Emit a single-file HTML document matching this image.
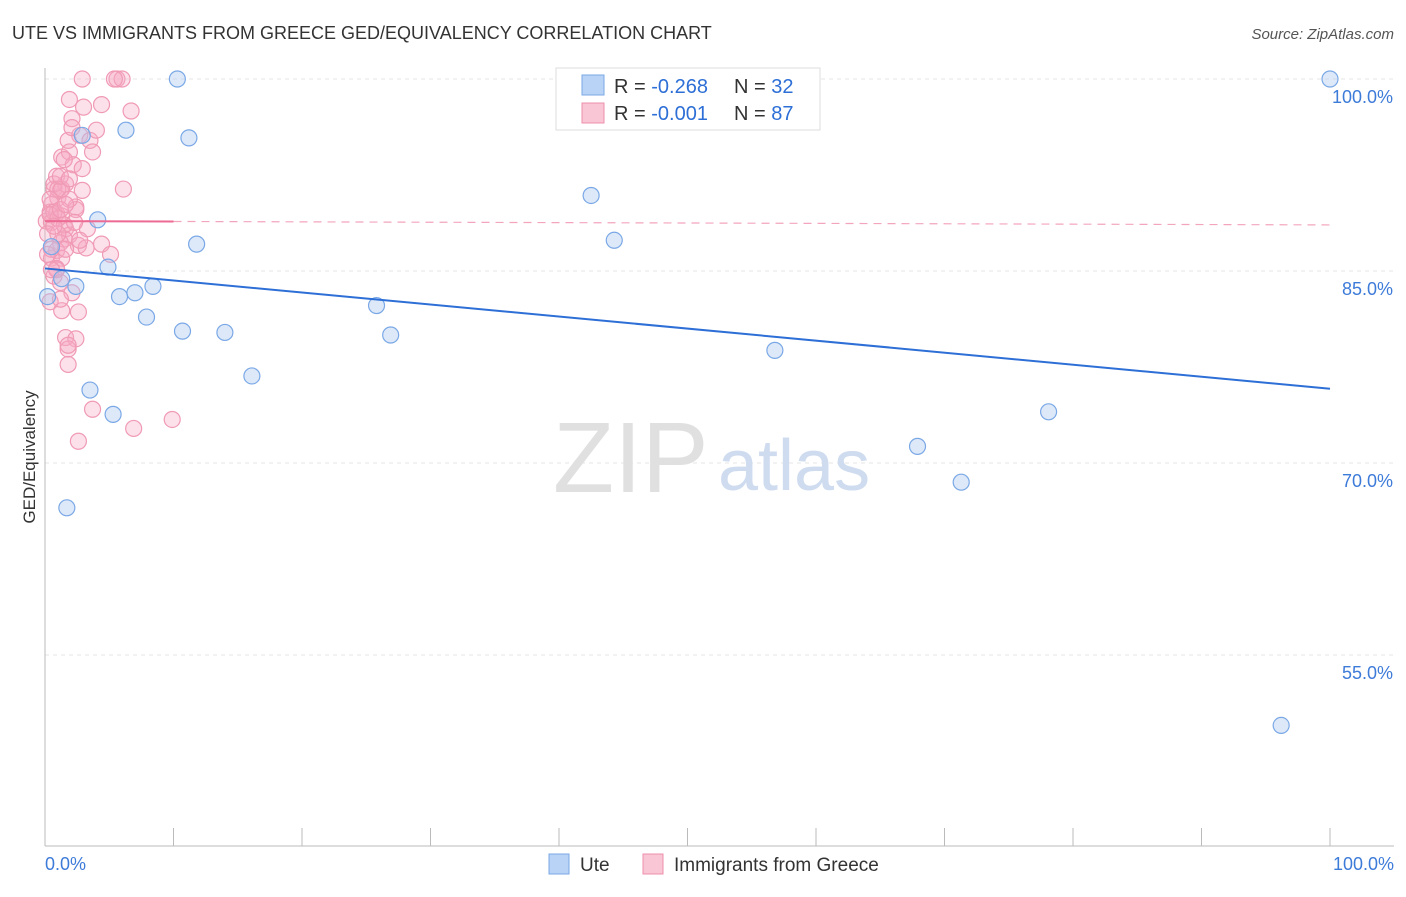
<!DOCTYPE html>
<html><head><meta charset="utf-8"><style>
body{margin:0;background:#fff;font-family:"Liberation Sans",sans-serif;}
svg text{font-family:"Liberation Sans",sans-serif;}
</style></head><body>
<svg id="chart" width="1406" height="892">
<text x="12" y="39" font-size="18" fill="#333">UTE VS IMMIGRANTS FROM GREECE GED/EQUIVALENCY CORRELATION CHART</text>
<text x="1394" y="39" font-size="15" fill="#555" font-style="italic" text-anchor="end">Source: ZipAtlas.com</text>
<g id="grid"></g>
<g id="axes"></g>
<text x="553" y="492" font-size="100" fill="#e0e0e0" font-family="Liberation Serif">ZIP</text>
<text x="718" y="490" font-size="72" fill="#cfdcf0">atlas</text>
<g id="marks"></g>
<text transform="translate(35,457) rotate(-90)" font-size="17" fill="#333" text-anchor="middle">GED/Equivalency</text>
<g>
<rect x="556" y="68" width="264" height="62" fill="#fff" stroke="#ddd"/>
<rect x="582" y="75" width="22" height="20" fill="#b8d3f5" stroke="#7aa8e6"/>
<rect x="582" y="103" width="22" height="20" fill="#f8c6d4" stroke="#ee8fab"/>
<text x="614" y="93" font-size="20" fill="#333">R = <tspan fill="#2d6fd6">-0.268</tspan></text>
<text x="734" y="93" font-size="20" fill="#333">N = <tspan fill="#2d6fd6">32</tspan></text>
<text x="614" y="120" font-size="20" fill="#333">R = <tspan fill="#2d6fd6">-0.001</tspan></text>
<text x="734" y="120" font-size="20" fill="#333">N = <tspan fill="#2d6fd6">87</tspan></text>
</g>
<g>
<rect x="549" y="854" width="20" height="20" fill="#b8d3f5" stroke="#7aa8e6"/>
<text x="580" y="871" font-size="19" fill="#333">Ute</text>
<rect x="643" y="854" width="20" height="20" fill="#f8c6d4" stroke="#ee8fab"/>
<text x="674" y="871" font-size="19" fill="#333">Immigrants from Greece</text>
</g>
</svg>
<script>
const yTicks=[100,85,70,55];
const yTickLabels=["100.0%","85.0%","70.0%","55.0%"];
const xTickLabels=["0.0%","100.0%"];
const uteX=[10.3,54.6,100,6.3,11.2,2.9,4.1,42.5,44.3,11.8,4.9,1.3,2.4,8.4,5.8,7.0,0.2,7.9,10.7,14.0,25.8,26.9,56.8,16.1,3.5,5.3,78.1,67.9,71.3,1.7,96.2,0.5];
const uteY=[100,100,100,96.0,95.4,95.6,89.0,90.9,87.4,87.1,85.3,84.4,83.8,83.8,83.0,83.3,83.0,81.4,80.3,80.2,82.3,80.0,78.8,76.8,75.7,73.8,74.0,71.3,68.5,66.5,49.5,86.9];
const grX=[2.9,5.6,6.0,5.4,1.9,4.4,3.0,6.7,2.1,2.7,3.5,1.8,3.7,1.3,1.9,2.2,2.9,0.9,1.6,0.7,1.2,2.9,6.1,1.0,0.5,2.4,0.4,0.9,1.3,2.4,0.1,0.5,1.6,1.9,1.5,3.3,1.2,2.6,3.2,4.4,5.1,0.9,0.5,1.3,0.9,0.7,1.2,2.1,0.4,1.3,2.6,1.6,2.4,1.8,1.8,3.7,6.9,9.9,2.6,0.7,1.0,1.3,0.4,0.7,1.0,1.5,1.9,0.2,0.5,1.0,1.6,2.3,0.2,0.9,1.2,1.8,0.4,1.2,1.5,2.1,1.6,2.7,4.0,0.5,1.2,0.7,1.9];
const grY=[100,100,100,100,98.4,98.0,97.8,97.5,96.9,95.6,95.2,95.2,94.3,93.9,94.3,93.3,93.0,92.4,91.8,91.4,91.3,91.3,91.4,90.7,90.2,90.0,89.6,89.5,89.3,89.8,88.9,88.8,88.3,87.8,87.5,88.3,87.2,87.0,86.8,87.1,86.3,86.6,86.0,86.0,85.2,84.6,84.1,83.3,82.6,81.9,81.8,79.8,79.7,78.9,77.7,74.2,72.7,73.4,71.7,91.8,91.4,91.4,90.6,89.6,89.1,88.6,90.6,87.9,86.7,87.9,86.7,88.8,86.3,85.1,82.8,79.2,89.4,89.8,93.7,96.2,90.2,87.4,96.0,85.1,92.4,88.5,92.2];
const uteTrend=[85.2,-0.094];
const greeceTrend=[88.9,-0.003];
const X=v=>45+v*12.85, Y=v=>79+(100-v)*12.8;
const ns="http://www.w3.org/2000/svg";
function mk(t,a,p){const e=document.createElementNS(ns,t);for(const k in a)e.setAttribute(k,a[k]);p.appendChild(e);return e;}
const grid=document.getElementById('grid'),axes=document.getElementById('axes'),marks=document.getElementById('marks');
yTicks.forEach((v,i)=>{
 const l=mk('line',{x1:45,x2:1394,y1:Y(v),y2:Y(v),stroke:'#e6e6e6','stroke-dasharray':'4,4'},grid);
 
 
 const t=mk('text',{x:1393,y:Y(v)+24,'font-size':18,fill:'#3d7bd9','text-anchor':'end'},axes);t.textContent=yTickLabels[i];
 
 
});
mk('line',{x1:45,x2:45,y1:68,y2:846,stroke:'#bbb'},axes);
mk('line',{x1:45,x2:1394,y1:846,y2:846,stroke:'#bbb'},axes);
for(let i=0;i<=10;i++){mk('line',{x1:X(i*10),x2:X(i*10),y1:828,y2:846,stroke:'#bbb'},axes);}
[[0,'start',45],[1,'end',1394]].forEach(([i,a,x])=>{const t=mk('text',{x:x,y:870,'font-size':18,fill:'#3d7bd9','text-anchor':a},axes);t.textContent=xTickLabels[i];
 
 });
grX.forEach((x,i)=>{const c=mk('circle',{cx:X(x),cy:Y(grY[i]),r:8,fill:'rgba(246,170,195,0.35)',stroke:'#f09ab5','stroke-width':1.2},marks);
 
 });
uteX.forEach((x,i)=>{const c=mk('circle',{cx:X(x),cy:Y(uteY[i]),r:8,fill:'rgba(170,200,240,0.4)',stroke:'#7aa8e6','stroke-width':1.2},marks);
 
 });
const bl=mk('line',{x1:X(0),y1:Y(uteTrend[0]),x2:X(100),y2:Y(uteTrend[0]+uteTrend[1]*100),stroke:'#2d6fd6','stroke-width':2},marks);


const ga=greeceTrend[0],gb=greeceTrend[1];
const p1=mk('line',{x1:X(0),y1:Y(ga),x2:X(10),y2:Y(ga+gb*10),stroke:'#ec6a93','stroke-width':2},marks);


const p2=mk('line',{x1:X(10),y1:Y(ga+gb*10),x2:X(100),y2:Y(ga+gb*100),stroke:'#f3a5bd','stroke-width':1.2,'stroke-dasharray':'8,6'},marks);


</script>
</body></html>
